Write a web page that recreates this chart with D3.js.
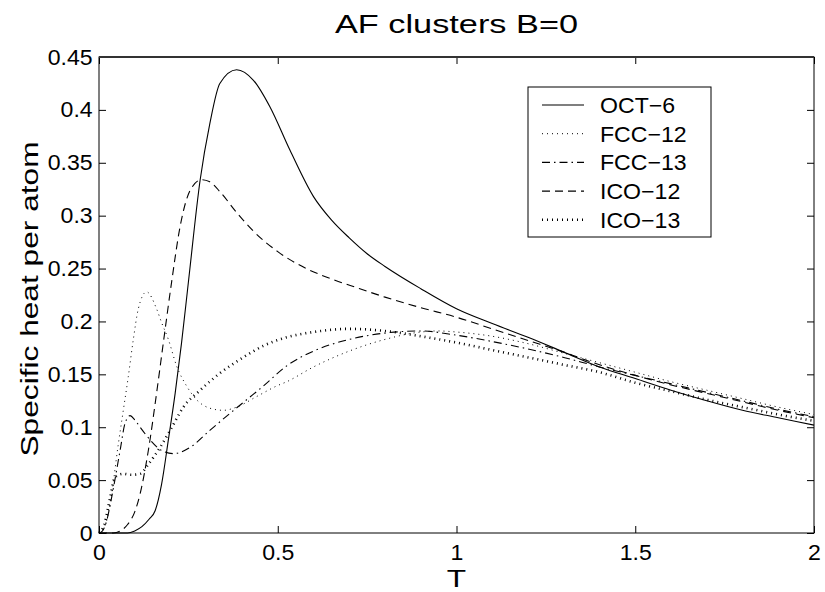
<!DOCTYPE html>
<html>
<head>
<meta charset="utf-8">
<script src="https://cdn.jsdelivr.net/npm/d3@7"></script>
<style>
  body { margin: 0; background: #fff; }
  text { font-family: "Liberation Sans", Arial, sans-serif; fill: #000; }
</style>
</head>
<body>
<div id="wrapper"></div>
<script>
// series names, in legend order
const seriesNames = ["OCT\u22126", "FCC\u221212", "FCC\u221213", "ICO\u221212", "ICO\u221213"]

// OCT-6 (solid)
const octT = [0, 0.05, 0.08, 0.1, 0.12, 0.14, 0.157, 0.175, 0.194, 0.213, 0.231, 0.25, 0.283, 0.31, 0.338, 0.385, 0.432, 0.478, 0.534, 0.6, 0.65, 0.7, 0.75, 0.8, 0.9, 1.0, 1.1, 1.2, 1.3, 1.4, 1.5, 1.6, 1.7, 1.8, 1.9, 2.0]
const octC = [0, 0, 0, 0.002, 0.006, 0.013, 0.021, 0.046, 0.088, 0.132, 0.18, 0.237, 0.334, 0.387, 0.425, 0.438, 0.428, 0.403, 0.362, 0.318, 0.296, 0.279, 0.264, 0.252, 0.231, 0.212, 0.198, 0.185, 0.171, 0.157, 0.146, 0.135, 0.125, 0.116, 0.109, 0.102]

// FCC-12 (thin dots)
const fcc12T = [0, 0.02, 0.03, 0.054, 0.068, 0.082, 0.096, 0.11, 0.133, 0.161, 0.175, 0.194, 0.217, 0.245, 0.273, 0.31, 0.348, 0.385, 0.441, 0.497, 0.525, 0.6, 0.7, 0.8, 0.9, 0.95, 1.0, 1.1, 1.2, 1.3, 1.4, 1.5, 1.6, 1.7, 1.8, 1.9, 2.0]
const fcc12C = [0, 0.01, 0.025, 0.084, 0.116, 0.148, 0.183, 0.212, 0.228, 0.212, 0.199, 0.183, 0.158, 0.139, 0.126, 0.118, 0.116, 0.119, 0.129, 0.139, 0.143, 0.157, 0.172, 0.183, 0.19, 0.191, 0.19, 0.186, 0.179, 0.17, 0.161, 0.152, 0.143, 0.135, 0.127, 0.119, 0.112]

// FCC-13 (dash-dot)
const fcc13T = [0, 0.01, 0.021, 0.035, 0.059, 0.073, 0.087, 0.1, 0.115, 0.143, 0.175, 0.208, 0.255, 0.31, 0.366, 0.413, 0.46, 0.525, 0.6, 0.7, 0.8, 0.9, 1.0, 1.1, 1.2, 1.3, 1.4, 1.5, 1.6, 1.7, 1.8, 1.9, 2.0]
const fcc13C = [0, 0.002, 0.011, 0.033, 0.078, 0.104, 0.111, 0.107, 0.1, 0.088, 0.078, 0.075, 0.081, 0.097, 0.113, 0.126, 0.139, 0.158, 0.172, 0.183, 0.189, 0.191, 0.187, 0.181, 0.174, 0.166, 0.157, 0.149, 0.141, 0.133, 0.125, 0.117, 0.11]

// ICO-12 (dashed)
const ico12T = [0, 0.04, 0.06, 0.08, 0.1, 0.115, 0.138, 0.161, 0.18, 0.203, 0.227, 0.255, 0.287, 0.31, 0.34, 0.385, 0.43, 0.5, 0.58, 0.66, 0.72, 0.8, 0.9, 1.0, 1.1, 1.2, 1.3, 1.4, 1.5, 1.6, 1.7, 1.8, 1.9, 2.0]
const ico12C = [0, 0, 0.002, 0.008, 0.02, 0.037, 0.078, 0.132, 0.18, 0.237, 0.29, 0.324, 0.334, 0.332, 0.322, 0.303, 0.286, 0.266, 0.25, 0.239, 0.232, 0.223, 0.213, 0.204, 0.193, 0.182, 0.171, 0.159, 0.149, 0.14, 0.132, 0.124, 0.116, 0.109]

// ICO-13 (heavy dots)
const ico13T = [0, 0.015, 0.031, 0.045, 0.068, 0.09, 0.115, 0.138, 0.171, 0.199, 0.236, 0.283, 0.338, 0.394, 0.46, 0.525, 0.6, 0.7, 0.8, 0.9, 1.0, 1.1, 1.2, 1.3, 1.4, 1.5, 1.6, 1.7, 1.8, 1.9, 2.0]
const ico13C = [0, 0.008, 0.033, 0.053, 0.056, 0.055, 0.056, 0.065, 0.081, 0.097, 0.119, 0.135, 0.151, 0.164, 0.177, 0.185, 0.19, 0.193, 0.191, 0.186, 0.18, 0.173, 0.166, 0.159, 0.152, 0.142, 0.134, 0.126, 0.119, 0.112, 0.106]

const xTicks = [0, 0.5, 1, 1.5, 2]
const yTicks = [0, 0.05, 0.1, 0.15, 0.2, 0.25, 0.3, 0.35, 0.4, 0.45]

const seriesT = [octT, fcc12T, fcc13T, ico12T, ico13T]
const seriesC = [octC, fcc12C, fcc13C, ico12C, ico13C]

// line styles per series
const styles = [
    { width: 1.1, dash: null },
    { width: 1, dash: "1,4" },
    { width: 1.1, dash: "8,4,1.5,4" },
    { width: 1.1, dash: "8,5" },
    { width: 2.6, dash: "1,4" },
]

// glyphs in the picture are wider than they are tall, labels even more so
const tickStretch = 1.05
const labelStretch = 1.32

let dimensions = {
    width: 825,
    height: 592,
    margin: { top: 57, right: 11, bottom: 59, left: 99 },
}
dimensions.boundedWidth = dimensions.width - dimensions.margin.left - dimensions.margin.right
dimensions.boundedHeight = dimensions.height - dimensions.margin.top - dimensions.margin.bottom

const wrapper = d3.select("#wrapper")
    .append("svg")
    .attr("width", dimensions.width)
    .attr("height", dimensions.height)

const bounds = wrapper.append("g")
    .attr("transform", `translate(${dimensions.margin.left},${dimensions.margin.top})`)

const xScaler = d3.scaleLinear().domain([0, 2]).range([0, dimensions.boundedWidth])
const yScaler = d3.scaleLinear().domain([0, 0.45]).range([dimensions.boundedHeight, 0])

// curves
const lineGen = d3.line()
    .x(d => xScaler(d[0]))
    .y(d => yScaler(d[1]))
    .curve(d3.curveMonotoneX)

seriesT.forEach((ts, i) => {
    const pts = ts.map((t, j) => [t, seriesC[i][j]])
    bounds.append("path")
        .datum(pts)
        .attr("d", lineGen)
        .attr("fill", "none")
        .attr("stroke", "#000")
        .attr("stroke-width", styles[i].width)
        .attr("stroke-dasharray", styles[i].dash)
})

// axes, ticks pointing inside on all four sides
const fmt = d3.format("~g")
const xAxis = bounds.append("g")
    .attr("transform", `translate(0,${dimensions.boundedHeight})`)
    .call(d3.axisBottom(xScaler).tickValues(xTicks).tickFormat(fmt).tickSizeInner(-7).tickSizeOuter(0).tickPadding(11))
const xTop = bounds.append("g")
    .call(d3.axisTop(xScaler).tickValues(xTicks).tickFormat("").tickSizeInner(-7).tickSizeOuter(0))
const yAxis = bounds.append("g")
    .call(d3.axisLeft(yScaler).tickValues(yTicks).tickFormat(fmt).tickSizeInner(-7).tickSizeOuter(0).tickPadding(6))
const yRight = bounds.append("g")
    .attr("transform", `translate(${dimensions.boundedWidth},0)`)
    .call(d3.axisRight(yScaler).tickValues(yTicks).tickFormat("").tickSizeInner(-7).tickSizeOuter(0))

bounds.selectAll(".domain").remove()
bounds.selectAll(".tick line").attr("stroke", "#000").attr("stroke-width", 1)
bounds.selectAll(".tick text")
    .attr("font-family", "Liberation Sans, Arial, sans-serif")
    .attr("font-size", 22)
    .attr("fill", "#000")
    .attr("transform", `scale(${tickStretch},1)`)

// frame
bounds.append("rect")
    .attr("x", 0)
    .attr("y", 0)
    .attr("width", dimensions.boundedWidth)
    .attr("height", dimensions.boundedHeight)
    .attr("fill", "none")
    .attr("stroke", "#000")
    .attr("stroke-width", 1)
bounds.append("line")
    .attr("x1", 0).attr("x2", dimensions.boundedWidth)
    .attr("y1", 0).attr("y2", 0)
    .attr("stroke", "#333")
    .attr("stroke-width", 2)

// texts
const addText = (x, y, str, size, rotate) => wrapper.append("text")
    .attr("transform", `translate(${x},${y})` + (rotate ? " rotate(-90)" : "") + ` scale(${labelStretch},1)`)
    .attr("text-anchor", "middle")
    .attr("font-size", size)
    .text(str)

const midX = dimensions.margin.left + dimensions.boundedWidth / 2
addText(midX, 33, "AF clusters B=0", 26)
addText(midX, 587, "T", 24)
addText(38, dimensions.margin.top + dimensions.boundedHeight / 2 + 4, "Specific heat per atom", 24, true)

// legend
const legend = wrapper.append("g").attr("transform", "translate(528,87)")
const rowH = 28.7
legend.append("rect")
    .attr("width", 183)
    .attr("height", 150)
    .attr("fill", "#fff")
    .attr("stroke", "#000")
    .attr("stroke-width", 1)
seriesNames.forEach((name, i) => {
    const y = 18 + i * rowH
    legend.append("line")
        .attr("x1", 14).attr("x2", 56)
        .attr("y1", y).attr("y2", y)
        .attr("stroke", "#000")
        .attr("stroke-width", styles[i].width)
        .attr("stroke-dasharray", styles[i].dash)
    legend.append("text")
        .attr("transform", `translate(72,${y + 8}) scale(${tickStretch},1)`)
        .attr("font-size", 22)
        .text(name)
})
</script>
</body>
</html>
